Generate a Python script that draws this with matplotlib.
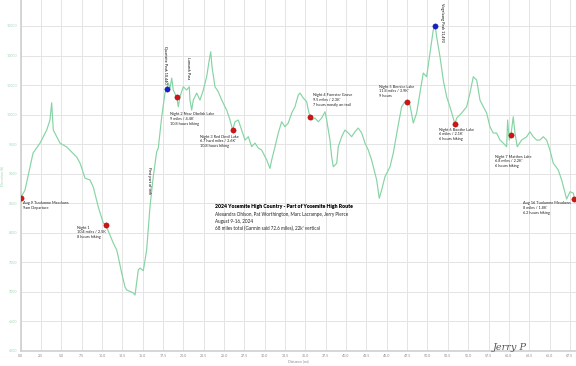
import numpy as np
import matplotlib.pyplot as plt

plt.rcParams['font.family'] = ['Lato', 'DejaVu Sans']

# elevation profile (distance mi, elevation ft)
dist = [0.0, 0.55, 1.54, 2.40, 3.22, 3.62, 3.83, 4.03, 4.85, 5.68, 6.29, 6.90, 7.31, 7.52,
        7.92, 8.54, 8.94, 9.56, 10.17, 10.47, 11.40, 11.82, 12.01, 12.43, 12.84, 13.05,
        13.82, 14.07, 14.47, 14.68, 15.09, 15.50, 15.91, 16.31, 16.73, 16.93, 17.35, 17.75,
        17.96, 18.16, 18.37, 18.58, 18.77, 19.19, 19.39, 19.59, 20.00, 20.42, 20.74, 20.82,
        21.03, 21.23, 21.65, 22.05, 22.46, 22.87, 23.19, 23.37, 23.53, 23.89, 24.30, 24.72,
        25.33, 25.74, 26.07, 26.35, 26.76, 27.17, 27.58, 27.99, 28.40, 28.81, 29.21, 29.63,
        30.25, 30.65, 30.86, 31.27, 31.67, 32.09, 32.49, 32.90, 33.32, 33.72, 34.13, 34.34,
        34.74, 35.16, 35.36, 35.57, 35.78, 36.18, 36.59, 37.00, 37.41, 37.62, 38.02, 38.23,
        38.43, 38.85, 39.04, 39.46, 39.86, 40.27, 40.69, 41.09, 41.50, 41.92, 42.32, 42.73,
        43.14, 43.76, 44.08, 44.37, 44.78, 45.40, 45.80, 46.41, 46.83, 47.24, 47.45, 47.85,
        48.26, 48.67, 49.08, 49.48, 49.90, 50.31, 50.71, 50.96, 51.13, 51.54, 51.94, 52.36,
        52.76, 53.38, 53.59, 54.20, 54.82, 55.22, 55.63, 56.05, 56.45, 56.86, 57.27, 57.68,
        58.08, 58.50, 58.91, 59.31, 59.73, 59.85, 60.05, 60.26, 60.54, 60.75, 61.03, 61.57,
        62.19, 62.59, 63.00, 63.41, 63.82, 64.23, 64.64, 65.05, 65.45, 66.07, 66.49, 66.90,
        67.10, 67.51, 67.92, 68.05]
elev = [8590, 8720, 9350, 9519, 9739, 9909, 10201, 9739, 9519, 9452, 9367, 9283, 9181, 9096,
        8927, 8893, 8775, 8436, 8166, 8132, 7827, 7709, 7596, 7320, 7083, 7032,
        6986, 6947, 7370, 7404, 7359, 7709, 8442, 8949, 9372, 9435, 9964, 10365,
        10440, 10535, 10450, 10619, 10416, 10293, 10134, 10303, 10472, 10416, 10472, 10247,
        10078, 10247, 10365, 10247, 10416, 10641, 10924, 11064, 10810, 10472, 10387, 10247,
        10078, 9909, 9739, 9880, 9909, 9739, 9570, 9626, 9457, 9519, 9435, 9401,
        9232, 9091, 9232, 9457, 9689, 9880, 9795, 9858, 10027, 10134, 10332, 10365,
        10281, 10218, 10078, 9964, 9909, 9942, 9880, 9942, 10049, 9909, 9570, 9288,
        9118, 9176, 9457, 9626, 9739, 9689, 9626, 9711, 9773, 9689, 9519, 9401,
        9232, 8893, 8584, 8724, 8949, 9118, 9350, 9824, 10134, 10218, 10213, 10162,
        9858, 10027, 10365, 10704, 10641, 11042, 11431, 11493, 11318, 10980, 10585, 10303,
        10134, 9841, 9942, 10027, 10134, 10365, 10641, 10585, 10247, 10134, 10027, 9795,
        9689, 9689, 9570, 9519, 9457, 9909, 9570, 9660, 9964, 9689, 9457, 9570,
        9626, 9711, 9626, 9570, 9570, 9626, 9570, 9401, 9181, 9063, 8893, 8673,
        8572, 8695, 8673, 8572]

# camps (red) and peaks (blue)
camp_dist = [0.0, 10.47, 19.19, 26.07, 35.57, 47.45, 53.38, 60.26, 68.05]
camp_elev = [8590, 8132, 10293, 9739, 9964, 10213, 9841, 9660, 8572]
peak_dist = [17.96, 50.96]
peak_elev = [10440, 11493]

camp_labels = [
    "Aug 9 Tuolumne Meadows\n9am Departure",
    "Night 1\n10.4 miles / 2.5K\n8 hours hiking",
    "Night 2 Near Obelisk Lake\n9 miles / 4.4K'\n10.8 hours hiking",
    "Night 3 Red Devil Lake\n6.7 hard miles / 2.6K'\n10.8 hours hiking",
    "Night 4 Foerster Grove\n9.5 miles / 2.3K'\n7 hours mostly on trail",
    "Night 5 Bernice Lake\n11.8 miles / 3.9K'\n9 hours",
    "Night 6 Boothe Lake\n6 miles / 2.1K'\n6 hours hiking",
    "Night 7 Matthes Lake\n6.8 miles / 2.2K'\n6 hours hiking",
    "Aug 16 Tuolumne Meadows\n8 miles / 1.8K'\n6.2 hours hiking",
]
label_pos = [(0.27, 8538), (6.9, 8123), (18.37, 10044), (22.05, 9663), (35.97, 10365),
             (44.04, 10509), (51.45, 9782), (58.29, 9325), (61.7, 8538)]

xticks = np.arange(0, 68, 2.5)
yticks = np.arange(6000, 11501, 500)

fig = plt.figure(figsize=(5.76, 3.66), dpi=100)
ax = fig.add_axes([20.5 / 576, 1 - 351 / 366, 1 - 20.5 / 576, 351 / 366])

ax.plot(dist, elev, color='#86d4a4', lw=0.85, zorder=2)
ax.plot(camp_dist, camp_elev, 'o', color='#d01515', mec='#a00000', mew=0.3, ms=3.8, zorder=3)
ax.plot(peak_dist, peak_elev, 'o', color='#1520c8', mec='#0a1090', mew=0.3, ms=3.8, zorder=3)

ax.set_xlim(0, 68.25)
ax.set_ylim(6000, 11940)
ax.set_xticks(xticks)
ax.set_yticks(yticks)
ax.set_xticklabels([f"{v:.1f}" for v in xticks])
ax.set_yticklabels([str(v) for v in yticks])
ax.tick_params(axis='x', labelsize=2.6, colors='#888888', length=0, pad=2)
ax.tick_params(axis='y', labelsize=2.6, colors='#9fd8b4', length=0, pad=2)
ax.grid(True, color='#e4e4e4', lw=0.7, zorder=0)
for s in ['top', 'right']:
    ax.spines[s].set_visible(False)
for s in ['left', 'bottom']:
    ax.spines[s].set_color('#cfcfcf')
    ax.spines[s].set_linewidth(1.2)

ax.set_xlabel("Distance (mi)", fontsize=2.6, color='#888888', labelpad=1)
ax.set_ylabel("Elevation (ft)", fontsize=2.6, color='#9fd8b4', labelpad=2)

for txt, (x, y) in zip(camp_labels, label_pos):
    ax.text(x, y, txt, fontsize=2.8, va='top', ha='left', linespacing=1.3, color='#222222')

ax.text(17.87, 11161, "Quartzite Peak 10,440", rotation=270, fontsize=2.7, ha='center', va='top')
ax.text(20.64, 10980, "Lamarck Pass", rotation=270, fontsize=2.7, ha='center', va='top')
ax.text(15.79, 9118, "First part of trek", rotation=270, fontsize=2.7, ha='center', va='top')
ax.text(51.78, 11883, "Vogelsang Peak 11,493", rotation=270, fontsize=2.7, ha='center', va='top')

ax.text(23.9, 8480, "2024 Yosemite High Country - Part of Yosemite High Route",
        fontsize=3.7, fontweight='heavy', va='top', ha='left')
ax.text(23.9, 8355, "Alexandra Ohlson, Pat Worthington, Marc Lacrampe, Jerry Pierce\n"
        "August 9-16, 2024\n68 miles total (Garmin said 72.6 miles), 22k' vertical",
        fontsize=3.3, va='top', ha='left', linespacing=1.45, color='#222222')

fig.text(0.885, 0.05, "Jerry P", fontsize=7, family='DejaVu Serif', style='italic',
         color='#555555', ha='center', va='center')

fig.savefig("out.png", dpi=100)
